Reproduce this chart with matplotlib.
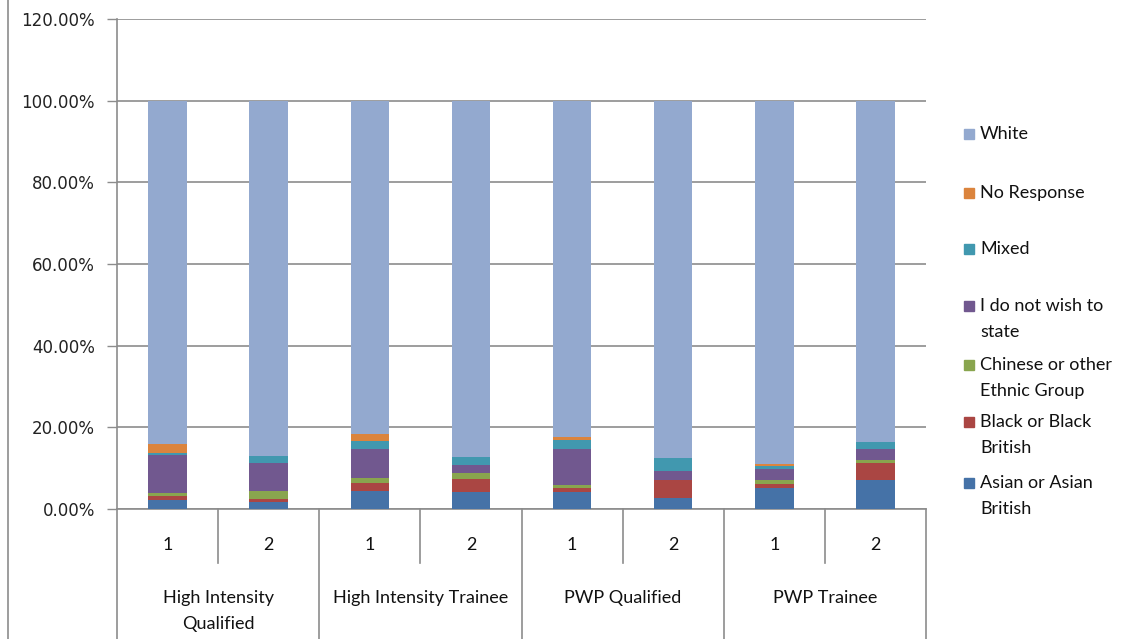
import numpy as np
import matplotlib
matplotlib.use('Agg')
import matplotlib.pyplot as plt
import matplotlib.transforms as mtransforms
from matplotlib.patches import Rectangle
from matplotlib.ticker import FuncFormatter

# ── data (percent of staff in each group) ───────────────────────────────
groups = ['High Intensity\nQualified', 'High Intensity Trainee', 'PWP Qualified', 'PWP Trainee']
sub_labels = ['1', '2', '1', '2', '1', '2', '1', '2']

asian = [2.1, 1.7, 4.5, 4.1, 4.1, 2.8, 5.2, 7.2]
black = [1.0, 0.7, 1.8, 3.15, 1.15, 4.4, 0.9, 4.05]
chinese = [0.9, 2.1, 1.3, 1.6, 0.75, 0.0, 1.1, 0.65]
not_state = [9.3, 6.75, 7.2, 2.0, 8.8, 2.0, 2.5, 2.9]
mixed = [0.4, 1.7, 1.9, 2.0, 2.0, 3.25, 0.75, 1.7]
no_response = [2.3, 0.0, 1.7, 0.0, 0.8, 0.0, 0.5, 0.0]
white = [84.0, 87.05, 81.6, 87.15, 82.4, 87.55, 89.05, 83.5]

series = [asian, black, chinese, not_state, mixed, no_response, white]
names = ['Asian or Asian\nBritish', 'Black or Black\nBritish', 'Chinese or other\nEthnic Group',
         'I do not wish to\nstate', 'Mixed', 'No Response', 'White']
colors = ['#4572A7', '#AA4643', '#89A54E', '#71588F', '#4198AF', '#DB843D', '#93A9CF']

grid_col = '#8c8c8c'
W, H = 1131, 639

fig = plt.figure(figsize=(W / 100, H / 100), dpi=100)
ax = fig.add_axes([117 / W, 1 - 509 / H, 809 / W, 490 / H])

x = np.arange(len(sub_labels))
bottom = np.zeros(len(x))
for vals, col in zip(series, colors):
    ax.bar(x, vals, width=0.38, bottom=bottom, color=col, zorder=3)
    bottom += np.array(vals)

ax.set_xlim(-0.5, len(x) - 0.5)
ax.set_ylim(0, 120)
ax.set_yticks(np.arange(0, 121, 20))
ax.yaxis.set_major_formatter(FuncFormatter(lambda v, p: f'{v:.2f}%'))
ax.yaxis.grid(True, color=grid_col, linewidth=1.2, zorder=0)
ax.tick_params(axis='y', length=7, width=1, color=grid_col, pad=9, labelsize=12,
               labelcolor='#222222')
ax.tick_params(axis='x', length=0, labelbottom=False)
for s in ['top', 'right']:
    ax.spines[s].set_visible(False)
ax.spines['left'].set_color(grid_col)
ax.spines['bottom'].set_color(grid_col)
ax.spines['left'].set_linewidth(1.2)
ax.spines['bottom'].set_linewidth(1.2)

# ── category table under the axis ───────────────────────────────────────
trans = mtransforms.blended_transform_factory(ax.transData, ax.transAxes)
low = -(H - 509) / 490
mid = -(563 - 509) / 490
for gx in np.arange(-0.5, len(x), 2):
    ax.plot([gx, gx], [0, low], color=grid_col, lw=1.2, transform=trans, clip_on=False)
for sx in np.arange(0.5, len(x), 2):
    ax.plot([sx, sx], [0, mid], color=grid_col, lw=1.2, transform=trans, clip_on=False)

cat_font = ['Lato', 'DejaVu Sans']
for xi, lab in zip(x, sub_labels):
    ax.text(xi, -(545 - 509) / 490, lab, transform=trans, ha='center', va='center',
            fontsize=13, family=cat_font, color='#111111')
for gi, g in enumerate(groups):
    yc = 611 if '\n' in g else 598
    ax.text(2 * gi + 0.5, -(yc - 509) / 490, g, transform=trans, ha='center', va='center',
            fontsize=13, family=cat_font, color='#111111', linespacing=1.7)

# outer left border of chart area
fig.add_artist(plt.Line2D([8 / W, 8 / W], [0, 1], color=grid_col, lw=1.2))

# ── legend (top entry = White) ──────────────────────────────────────────
leg_y = [483, 422, 365, 306, 249, 193, 134]
for name, col, yc in zip(names, colors, leg_y):
    fig.add_artist(Rectangle((964 / W, 1 - (yc + 5) / H), 10 / W, 10 / H,
                             color=col, transform=fig.transFigure))
    lines = name.split('\n')
    for k, ln in enumerate(lines):
        fig.text(980 / W, 1 - (yc + 26 * k) / H, ln, ha='left', va='center',
                 fontsize=13, family=cat_font, color='#111111')

fig.savefig('out.png', dpi=100, facecolor='white')
